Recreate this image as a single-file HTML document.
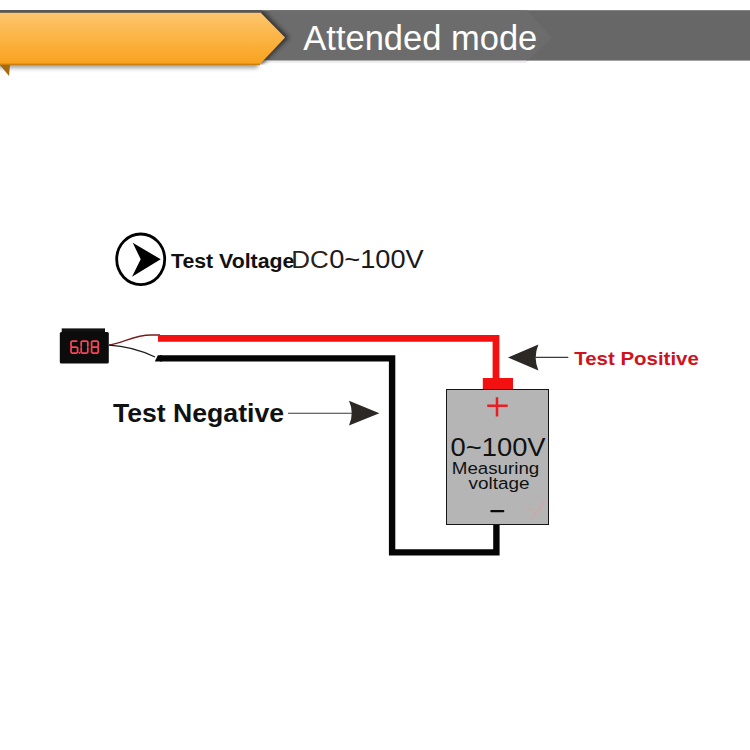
<!DOCTYPE html>
<html><head><meta charset="utf-8">
<style>
html,body{margin:0;padding:0;background:#fff;width:750px;height:750px;overflow:hidden}
svg{display:block}
text{font-family:"Liberation Sans",sans-serif}
</style></head>
<body>
<svg width="750" height="750" viewBox="0 0 750 750">
<defs>
<linearGradient id="og" x1="0" y1="0" x2="0" y2="1">
<stop offset="0" stop-color="#fdc56e"/>
<stop offset="0.5" stop-color="#fbb443"/>
<stop offset="1" stop-color="#f9a11d"/>
</linearGradient>
<linearGradient id="sh" x1="0" y1="0" x2="0" y2="1">
<stop offset="0" stop-color="#c8c8c8"/>
<stop offset="1" stop-color="#ffffff"/>
</linearGradient>
<filter id="blur" x="-10%" y="-50%" width="120%" height="200%"><feGaussianBlur stdDeviation="2"/></filter>
<clipPath id="barclip"><polygon points="0,10.2 750,10.2 750,60.6 275,60.6 268,64.8 0,64.8"/></clipPath>
<clipPath id="underclip"><rect x="0" y="64.8" width="300" height="20"/></clipPath>
</defs>
<!-- header -->
<rect x="0" y="10.2" width="750" height="50.4" fill="#676767"/>
<polygon points="270,10.2 527,10.2 552,38 528,60.6 270,60.6" fill="#6c6c6c"/>
<rect x="262" y="60.6" width="265" height="2.2" fill="#ececec"/>
<!-- shadow under orange -->
<g clip-path="url(#underclip)"><rect x="-10" y="60" width="268" height="8" fill="#777" filter="url(#blur)" opacity="0.7"/></g>
<!-- dark chevron shadow -->
<g clip-path="url(#barclip)"><polygon points="0,10.2 262,10.2 289,37.5 262,64 0,64" fill="#2a2a2a" filter="url(#blur)" opacity="0.9"/></g>
<rect x="0" y="10.2" width="262" height="2.6" fill="#555"/>
<!-- orange -->
<polygon points="0,12.8 260.8,12.8 285.1,37.5 259.5,64.8 0,64.8" fill="url(#og)"/>
<rect x="0" y="63.6" width="260" height="1.6" fill="#c98010"/>
<polygon points="0,65 10,65 9,76" fill="#a86a10"/>
<text x="303.3" y="49.9" font-size="34.5" fill="#fff">Attended mode</text>

<!-- circle icon -->
<ellipse cx="140.7" cy="259.3" rx="24" ry="25.3" fill="none" stroke="#000" stroke-width="2.8"/>
<polygon points="160.7,259.3 132.7,242.7 140.7,259.3 132,276.7" fill="#000"/>
<text x="171" y="268" font-size="20" font-weight="bold" fill="#111" textLength="123.3" lengthAdjust="spacingAndGlyphs">Test Voltage</text>
<text x="291.2" y="268" font-size="24.5" fill="#2a2420" textLength="37.5" lengthAdjust="spacingAndGlyphs">DC</text><text x="329.2" y="268" font-size="25" fill="#1a1a1a" textLength="94.5" lengthAdjust="spacingAndGlyphs">0~100V</text>

<!-- device -->
<rect x="61.7" y="328.4" width="43.3" height="5" fill="#111"/>
<rect x="59.8" y="332" width="49" height="31.4" rx="1.5" fill="#0c0c0c"/>
<path d="M71.9,341 H76.69999999999999 M71,341.9 V346.1 M71.9,347.0 H76.69999999999999 M71,347.9 V352.1 M71.9,353 H76.69999999999999 M77.6,347.9 V352.1 M82.10000000000001,341 H86.89999999999999 M87.8,341.9 V346.1 M87.8,347.9 V352.1 M82.10000000000001,353 H86.89999999999999 M81.2,347.9 V352.1 M81.2,341.9 V346.1 M92.5,341 H97.29999999999998 M98.19999999999999,341.9 V346.1 M98.19999999999999,347.9 V352.1 M92.5,353 H97.29999999999998 M91.6,347.9 V352.1 M91.6,341.9 V346.1 M92.5,347.0 H97.29999999999998" stroke="#ff4257" stroke-width="1.75" stroke-linecap="round" fill="none"/>
<rect x="78.6" y="352" width="1.7" height="1.7" fill="#ff4257"/>

<!-- thin wires -->
<path d="M109,345.2 C125,342 135,335 151,335 L160,335" fill="none" stroke="#7a1c1c" stroke-width="1.3"/>
<path d="M109,345.2 C125,346 140,350 155,357" fill="none" stroke="#1a1a1a" stroke-width="1.3"/>

<!-- red wire -->
<path d="M158,338.4 L496,338.4 L496,379" fill="none" stroke="#f21010" stroke-width="6.8"/>
<rect x="482.8" y="378" width="30.2" height="11.4" fill="#f21010"/>
<!-- black wire -->
<polygon points="154.8,361.6 157.8,355.2 162,355.2 162,361.6" fill="#050505"/>
<path d="M160,358.4 L392.1,358.4 L392.1,552.4 L496.4,552.4 L496.4,524" fill="none" stroke="#050505" stroke-width="6.4"/>

<!-- battery box -->
<rect x="446.5" y="389.5" width="102" height="135" fill="#b5b5b5" stroke="#161616" stroke-width="1"/>
<path d="M487.2,405.8 H507.7 M497,397.2 V416.4" stroke="#ec1c24" stroke-width="2.5"/>
<path d="M526,509 L533,510 M531,518 Q540,510 545,499.5" stroke="#d9a0a4" stroke-width="1.6" fill="none" opacity="0.8"/>
<text x="450.6" y="456.4" font-size="25" fill="#111" textLength="95" lengthAdjust="spacingAndGlyphs">0~100V</text>
<text x="451.8" y="473.6" font-size="17.2" fill="#111" textLength="87.5" lengthAdjust="spacingAndGlyphs">Measuring</text>
<text x="468.6" y="489" font-size="17.2" fill="#111" textLength="61" lengthAdjust="spacingAndGlyphs">voltage</text>
<rect x="490.3" y="509.9" width="14" height="2.3" rx="1" fill="#0a0a0a"/>

<!-- positive arrow -->
<path d="M508,357.4 L538.4,344.4 Q533,357.4 538.4,370.4 Z" fill="#2c2826"/>
<line x1="534" y1="357.4" x2="568.3" y2="357.4" stroke="#3a3a3a" stroke-width="1.1"/>
<text x="574.3" y="365.2" font-size="19" font-weight="bold" fill="#d0121c" textLength="124.5" lengthAdjust="spacingAndGlyphs">Test Positive</text>

<!-- negative -->
<text x="113" y="421.8" font-size="25" font-weight="bold" fill="#111" textLength="171" lengthAdjust="spacingAndGlyphs">Test Negative</text>
<line x1="288" y1="413.2" x2="352" y2="413.2" stroke="#3a3a3a" stroke-width="1.1"/>
<path d="M379.4,413.2 L349,400.8 Q354.5,413.2 349,425.6 Z" fill="#2c2826"/>
</svg>
</body></html>
